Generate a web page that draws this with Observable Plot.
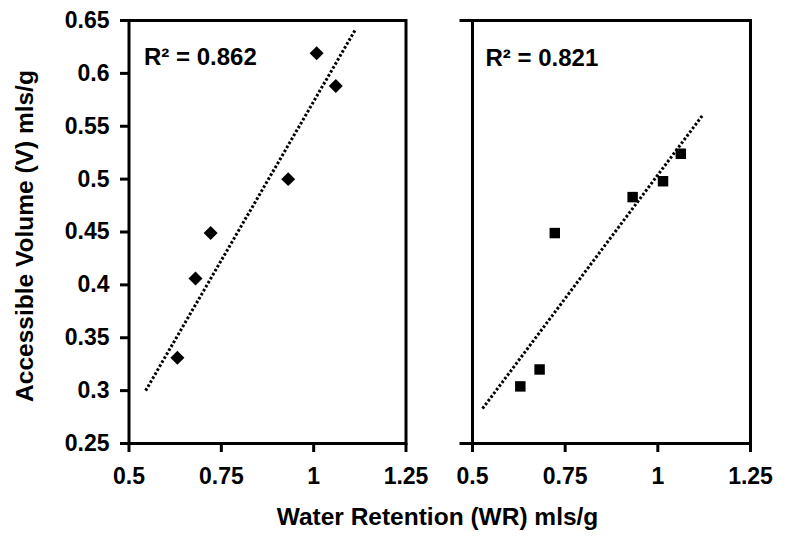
<!DOCTYPE html>
<html><head><meta charset="utf-8">
<script src="https://cdn.jsdelivr.net/npm/d3@7"></script>
<script src="https://cdn.jsdelivr.net/npm/@observablehq/plot@0.6"></script>
<style>
body{margin:0;background:#fff;}
#wrap{position:relative;width:786px;height:536px;font-family:"Liberation Sans",Arial,sans-serif;font-weight:bold;color:#000;overflow:hidden;}
#wrap svg{position:absolute;top:0;overflow:visible;}
.ytitle{position:absolute;left:24.5px;top:235.5px;transform:translate(-50%,-50%) rotate(-90deg);font-size:24.5px;line-height:1;white-space:nowrap;}
.xtitle{position:absolute;left:437.5px;top:505px;transform:translateX(-50%);font-size:24.5px;line-height:1;white-space:nowrap;}
</style></head>
<body>
<div id="wrap"></div>
<script>
// Tick values
const xTicks = [0.5, 0.75, 1, 1.25];
const yTicks = [0.25, 0.3, 0.35, 0.4, 0.45, 0.5, 0.55, 0.6, 0.65];
const yTicksRight = [0.25, 0.65];
// Axis titles
const xTitle = "Water Retention (WR) mls/g";
const yTitle = "Accessible Volume (V) mls/g";
// Left panel (diamonds)
const wrLeft = [0.631, 0.680, 0.721, 0.931, 1.008, 1.060];
const vLeft  = [0.331, 0.406, 0.449, 0.500, 0.619, 0.588];
const trendLeftX = [0.545, 1.114];
const trendLeftY = [0.300, 0.642];
const r2Left = "R² = 0.862";
// Right panel (squares)
const wrRight = [0.629, 0.681, 0.722, 0.932, 1.014, 1.062];
const vRight  = [0.304, 0.320, 0.449, 0.483, 0.498, 0.524];
const trendRightX = [0.527, 1.122];
const trendRightY = [0.283, 0.561];
const r2Right = "R² = 0.821";

const font = '"Liberation Sans", Arial, sans-serif';
const toPts = (xs, ys) => xs.map((x, i) => ({x, y: ys[i]}));

function panel({width, marginLeft, marginRight, pts, trend, symbol, r, label, yT, yFmt, yTickSize, labelDx, labelDy}) {
  return Plot.plot({
    width, height: 536,
    marginLeft, marginRight, marginTop: 20, marginBottom: 93,
    x: {domain: [0.5, 1.25]},
    y: {domain: [0.25, 0.65]},
    style: {fontFamily: font, fontWeight: "bold", fontSize: "23px", color: "black", background: "transparent", overflow: "visible"},
    marks: [
      Plot.axisX({ticks: xTicks, tickFormat: d => String(d), tickSize: 9, tickPadding: 15, strokeWidth: 3, fontSize: 23, fontWeight: "bold", label: null}),
      Plot.axisY({ticks: yT, tickFormat: yFmt, tickSize: yTickSize, tickPadding: 11, strokeWidth: 3, fontSize: 23, fontWeight: "bold", label: null}),
      Plot.frame({strokeWidth: 3, stroke: "black"}),
      Plot.line(trend, {x: "x", y: "y", stroke: "black", strokeWidth: 3, strokeDasharray: "2.6 2", strokeLinecap: "butt"}),
      Plot.dot(pts, {x: "x", y: "y", symbol, r, fill: "black", stroke: "none"}),
      Plot.text([label], {text: d => d, frameAnchor: "top-left", dx: labelDx, dy: labelDy, textAnchor: "start", lineAnchor: "top", fontSize: 24, fontWeight: "bold", fill: "black"})
    ]
  });
}

const wrap = document.getElementById("wrap");
const left = panel({width: 420, marginLeft: 128.5, marginRight: 14.5,
  pts: toPts(wrLeft, vLeft), trend: toPts(trendLeftX, trendLeftY),
  symbol: "diamond2", r: 6.3, label: r2Left, yT: yTicks, yFmt: d => String(d), yTickSize: 8.5, labelDx: 15, labelDy: 27});
left.style.left = "0px";
wrap.appendChild(left);

const right = panel({width: 366, marginLeft: 52, marginRight: 36,
  pts: toPts(wrRight, vRight), trend: toPts(trendRightX, trendRightY),
  symbol: "square", r: 5.9, label: r2Right, yT: yTicksRight, yFmt: () => "", yTickSize: 12.5, labelDx: 13, labelDy: 28});
right.style.left = "420px";
wrap.appendChild(right);

const yt = document.createElement("div"); yt.className = "ytitle"; yt.textContent = yTitle; wrap.appendChild(yt);
const xt = document.createElement("div"); xt.className = "xtitle"; xt.textContent = xTitle; wrap.appendChild(xt);
</script>
</body></html>
